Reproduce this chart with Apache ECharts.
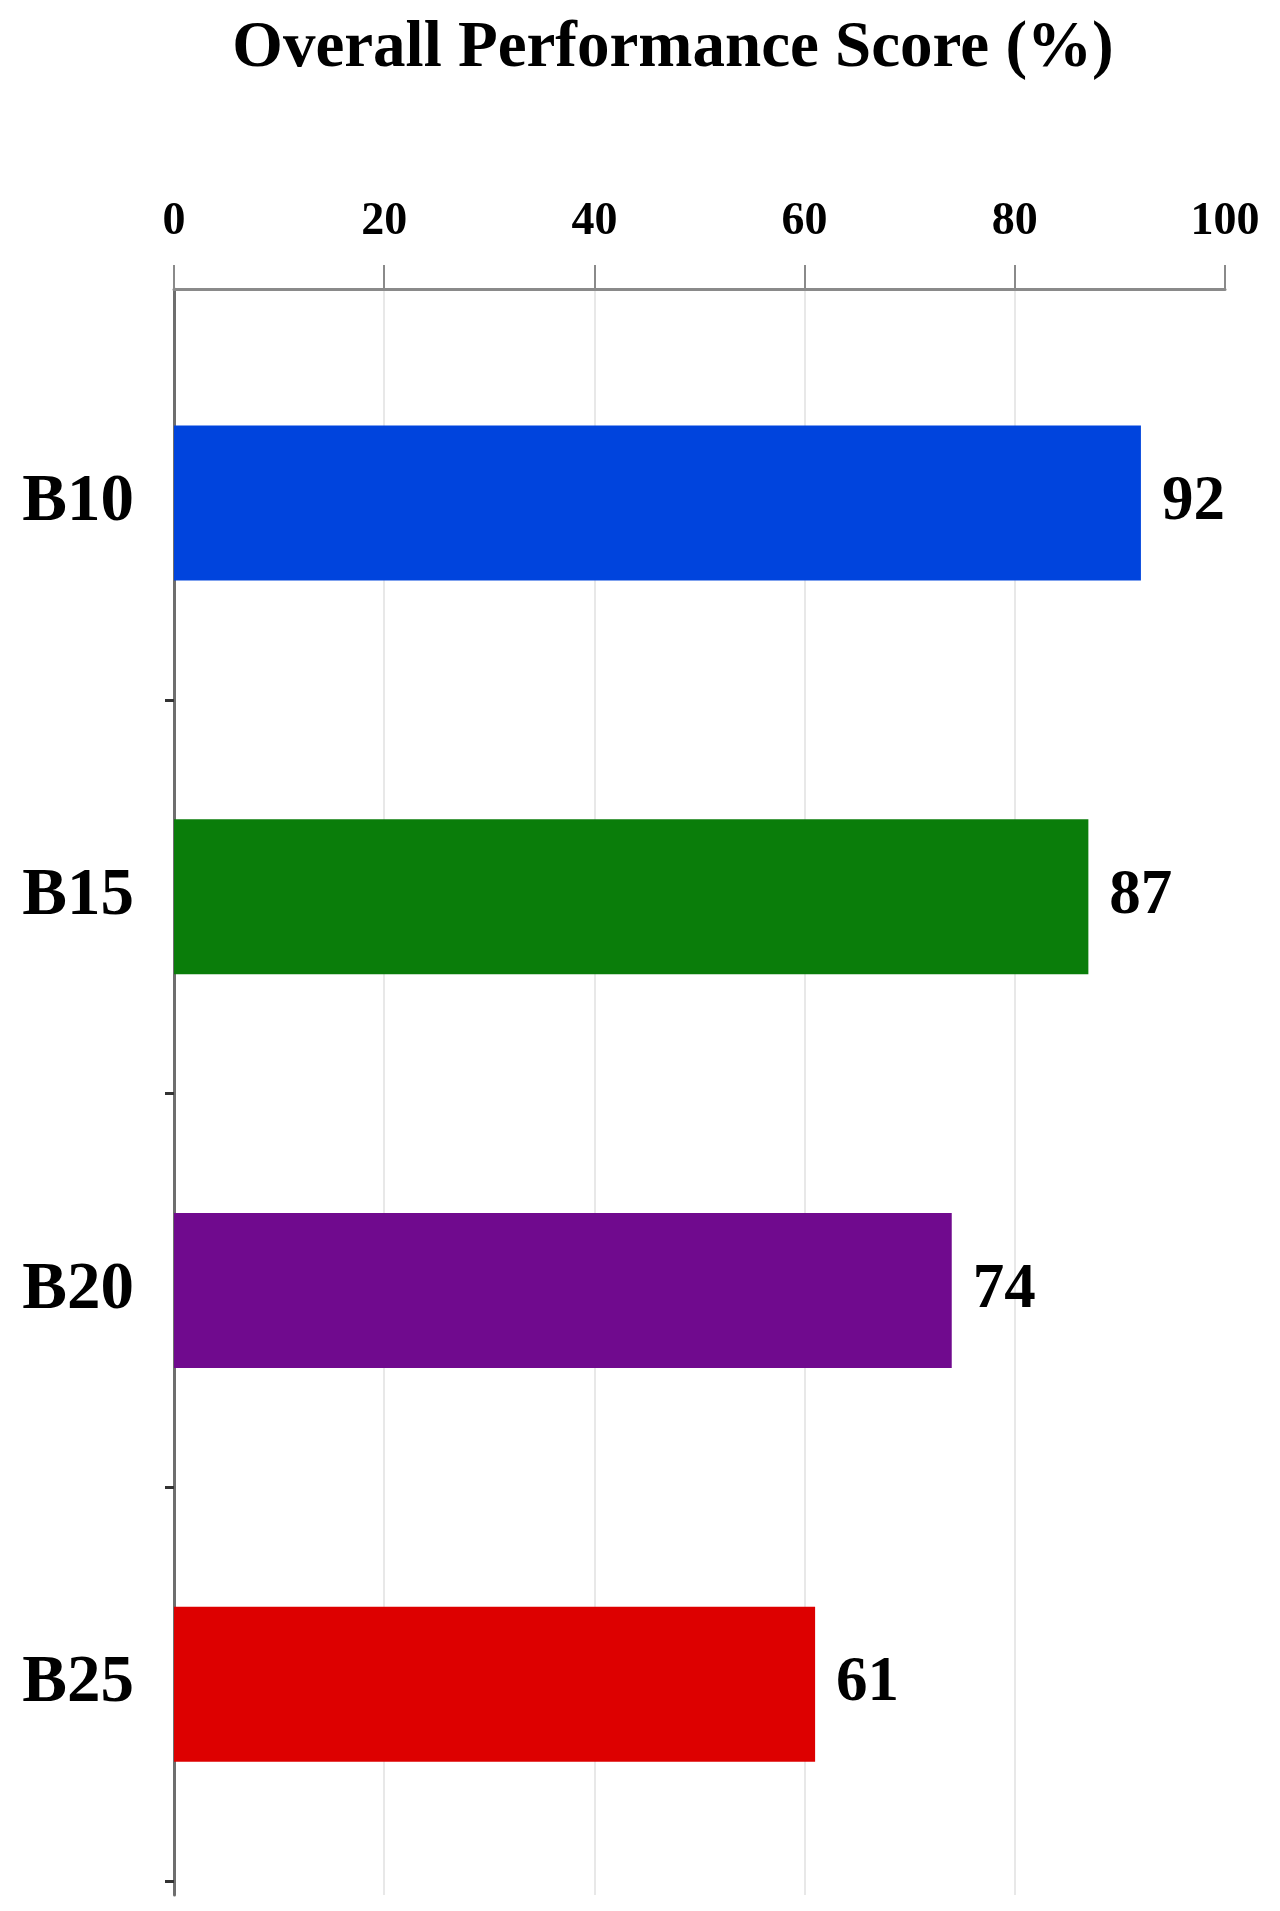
<!DOCTYPE html>
<html>
<head>
<meta charset="utf-8">
<title>Overall Performance Score</title>
<script src="https://cdn.jsdelivr.net/npm/echarts@6/dist/echarts.min.js"></script>
<style>
    html, body { margin: 0; padding: 0; background: #fff; }
    #chart { width: 1280px; height: 1911px; }
</style>
</head>
<body>
<div id="chart"></div>
<script>
// 数据
var categories = ['B10', 'B15', 'B20', 'B25'];
var scores = [92, 87, 74, 61];
var barColors = ['#0044dd', '#0a7d0a', '#700a8e', '#dd0000'];
var xTicks = [0, 20, 40, 60, 80, 100];

initChart();

function initChart(){
    var seriesData = [];
    for(var i=0;i<scores.length;i++){
        seriesData.push({
            value: scores[i],
            itemStyle: { color: barColors[i] }
        });
    }

    var serif = '"Liberation Serif", "DejaVu Serif", serif';
    var xMin = xTicks[0], xMax = xTicks[xTicks.length-1];
    var chart = echarts.init(document.getElementById('chart'));
    var option = {
        backgroundColor: '#fff',
        animation: false,
        title: {
            text: 'Overall Performance Score (%)',
            left: 668,
            top: 12,
            textAlign: 'center',
            textStyle: {
                fontFamily: serif,
                fontWeight: 'bold',
                fontSize: 65,
                color: '#000'
            }
        },
        // grid 0: 柱子; grid 1: 只画网格线和左侧轴线(比柱区更高一点)
        grid: [
            { left: 174, right: 55, top: 306, bottom: 30 },
            { left: 174, right: 55, top: 289, bottom: 16 }
        ],
        xAxis: [{
            type: 'value',
            gridIndex: 0,
            position: 'top',
            offset: 17,
            min: xMin,
            max: xMax,
            interval: 20,
            axisLine: { show: true, lineStyle: { color: '#8a8a8a', width: 3 } },
            axisTick: { show: true, length: 24, lineStyle: { color: '#8a8a8a', width: 2 } },
            axisLabel: {
                margin: 44,
                fontFamily: serif,
                fontWeight: 'bold',
                fontSize: 46,
                color: '#000'
            },
            splitLine: { show: false }
        }, {
            type: 'value',
            gridIndex: 1,
            min: xMin,
            max: xMax,
            interval: 20,
            axisLine: { show: false },
            axisTick: { show: false },
            axisLabel: { show: false },
            splitLine: {
                show: true,
                showMinLine: false,
                showMaxLine: false,
                lineStyle: { color: '#e8e8e8', width: 2 }
            }
        }],
        yAxis: [{
            type: 'category',
            gridIndex: 0,
            inverse: true,
            data: categories,
            axisLine: { show: false },
            axisTick: {
                show: true,
                length: 9,
                // 首尾两端不画刻度
                interval: function(idx){ return idx > 0 && idx < categories.length; },
                lineStyle: { color: '#333', width: 3 }
            },
            axisLabel: {
                margin: 40,
                fontFamily: serif,
                fontWeight: 'bold',
                fontSize: 67,
                color: '#000'
            },
            splitLine: { show: false }
        }, {
            type: 'value',
            gridIndex: 1,
            min: 0,
            max: 1,
            axisLine: { show: true, onZero: false, lineStyle: { color: '#6e6e6e', width: 3 } },
            axisTick: { show: false },
            axisLabel: { show: false },
            splitLine: { show: false }
        }],
        series: [{
            type: 'bar',
            xAxisIndex: 0,
            yAxisIndex: 0,
            barWidth: 155,
            data: seriesData,
            z: 3,
            label: {
                show: true,
                position: 'right',
                distance: 21,
                fontFamily: serif,
                fontWeight: 'bold',
                fontSize: 63,
                color: '#000'
            }
        }]
    };
    chart.setOption(option);
}
</script>
</body>
</html>
